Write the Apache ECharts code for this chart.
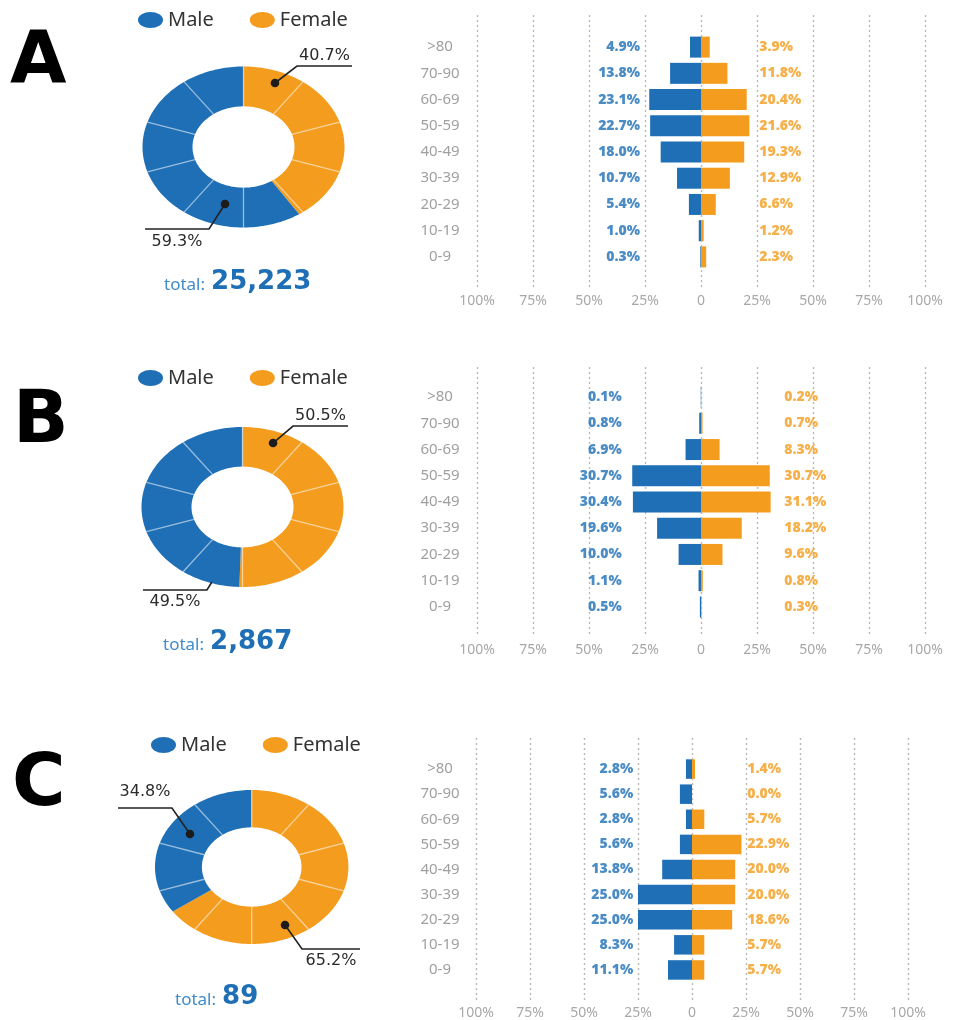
<!DOCTYPE html>
<html>
<head>
<meta charset="utf-8">
<script src="https://cdn.jsdelivr.net/npm/echarts@6/dist/echarts.min.js"></script>
<style>
  html, body { margin: 0; padding: 0; background: #ffffff; }
  #chart { width: 964px; height: 1020px; }
</style>
</head>
<body>
<div id="chart"></div>
<script>
// ---- data ----
// age groups, listed bottom to top
const ageGroups = ['0-9', '10-19', '20-29', '30-39', '40-49', '50-59', '60-69', '70-90', '>80'];
const panelLetters = ['A', 'B', 'C'];
const totals = [25223, 2867, 89];
const femaleShare = [40.7, 50.5, 65.2];
const maleShare = [59.3, 49.5, 34.8];

// share of each age group within each sex (%), ordered like ageGroups
const maleA = [0.3, 1.0, 5.4, 10.7, 18.0, 22.7, 23.1, 13.8, 4.9];
const femaleA = [2.3, 1.2, 6.6, 12.9, 19.3, 21.6, 20.4, 11.8, 3.9];
const maleB = [0.5, 1.1, 10.0, 19.6, 30.4, 30.7, 6.9, 0.8, 0.1];
const femaleB = [0.3, 0.8, 9.6, 18.2, 31.1, 30.7, 8.3, 0.7, 0.2];
const maleC = [11.1, 8.3, 25.0, 25.0, 13.8, 5.6, 2.8, 5.6, 2.8];
const femaleC = [5.7, 5.7, 18.6, 20.0, 20.0, 22.9, 5.7, 0.0, 1.4];

const maleByPanel = [maleA, maleB, maleC];
const femaleByPanel = [femaleA, femaleB, femaleC];

// ---- styling & layout ----
const BLUE = '#1e6fb6';
const ORANGE = '#f49c1d';
const TEXT_DARK = '#2b2b2b';
const ELLIPSE_ICON = 'path://M0,10a10,10 0 1,0 20,0a10,10 0 1,0 -20,0z';

const frames = [
  {
    letter: { left: 10, top: 28 }, legend: { left: 138, top: 10 }, total: { left: 164, top: 267 },
    donut: { cx: 243.5, cy: 147, rx: 101, ry: 80.5, hole: 0.505 },
    plot: { left: 477, width: 448, lineTop: 15, lineHeight: 272, barTop: 34, barHeight: 236, barWidth: 21, labelMargin: 37, tickMargin: 7 },
    valueAnchor: [-27.2, 26.0]
  },
  {
    letter: { left: 13, top: 387 }, legend: { left: 138, top: 368 }, total: { left: 163, top: 627 },
    donut: { cx: 242.5, cy: 507, rx: 101, ry: 80, hole: 0.505 },
    plot: { left: 477, width: 448, lineTop: 367, lineHeight: 270, barTop: 384, barHeight: 236, barWidth: 21, labelMargin: 37, tickMargin: 6 },
    valueAnchor: [-35.4, 37.2]
  },
  {
    letter: { left: 12, top: 750 }, legend: { left: 151, top: 735 }, total: { left: 175, top: 982 },
    donut: { cx: 251.7, cy: 867, rx: 96.7, ry: 77, hole: 0.515 },
    plot: { left: 476, width: 432, lineTop: 738, lineHeight: 263, barTop: 756.5, barHeight: 226, barWidth: 19.5, labelMargin: 36, tickMargin: 5 },
    valueAnchor: [-27.2, 25.6]
  }
];

// callout geometry per panel: [female, male]
// angle: degrees clockwise from 12 o'clock, r: fraction of the outer radius
const callouts = [
  [ { angle: 21.4, r: 0.854, dx: 22, dy: -17, len: 55, textDy: -10, dot: true },
    { angle: 194.5, r: 0.731, dx: -16, dy: 25, len: -64, textDy: 13, dot: true } ],
  [ { angle: 20.7, r: 0.855, dx: 20, dy: -17, len: 55, textDy: -10, dot: true },
    { angle: 197.9, r: 0.985, dx: -5, dy: 8, len: -64, textDy: 12, dot: false } ],
  [ { angle: 155.4, r: 0.828, dx: 17, dy: 24, len: 58, textDy: 12, dot: true },
    { angle: 303.9, r: 0.769, dx: -18, dy: -26, len: -54, textDy: -16, dot: true } ]
];

// point on the (elliptical) donut at a given angle and radius fraction
function ringPoint(d, deg, k) {
  const a = deg * Math.PI / 180;
  return [d.cx + d.rx * k * Math.sin(a), d.cy - d.ry * k * Math.cos(a)];
}

// donut slices: [panel, sex (0 female, 1 male), share]
const donutItems = [];
frames.forEach((f, p) => {
  donutItems.push([p, 0, femaleShare[p]]);
  donutItems.push([p, 1, maleShare[p]]);
});

function renderSlice(params, api) {
  const p = api.value(0), sex = api.value(1), share = api.value(2);
  const d = frames[p].donut;
  const a0 = sex === 0 ? 0 : femaleShare[p] * 3.6;
  const a1 = a0 + share * 3.6;
  const n = Math.max(2, Math.ceil((a1 - a0) / 1.5));
  const pts = [];
  for (let i = 0; i <= n; i++) pts.push(ringPoint(d, a0 + (a1 - a0) * i / n, 1));
  for (let i = n; i >= 0; i--) pts.push(ringPoint(d, a0 + (a1 - a0) * i / n, d.hole));
  return {
    type: 'polygon',
    shape: { points: pts },
    style: { fill: sex === 0 ? ORANGE : BLUE }
  };
}

// ten equal tiles drawn as light dividers over the ring
function renderDividers(params, api) {
  const d = frames[api.value(0)].donut;
  const children = [];
  for (let k = 0; k < 10; k++) {
    const a = k * 36;
    const p0 = ringPoint(d, a, d.hole), p1 = ringPoint(d, a, 1);
    children.push({
      type: 'line',
      shape: { x1: p0[0], y1: p0[1], x2: p1[0], y2: p1[1] },
      style: { stroke: 'rgba(255,255,255,0.55)', lineWidth: 1.3 }
    });
  }
  return { type: 'group', children: children };
}

function renderCallout(params, api) {
  const p = api.value(0), sex = api.value(1), share = api.value(2);
  const d = frames[p].donut;
  const c = callouts[p][sex];
  const start = ringPoint(d, c.angle, c.r);
  const elbow = [start[0] + c.dx, start[1] + c.dy];
  const end = [elbow[0] + c.len, elbow[1]];
  const children = [{
    type: 'polyline',
    shape: { points: [start, elbow, end] },
    style: { stroke: '#222222', lineWidth: 1.6, fill: null }
  }];
  if (c.dot) {
    children.push({
      type: 'circle',
      shape: { cx: start[0], cy: start[1], r: 4.3 },
      style: { fill: '#1c1c1c' }
    });
  }
  children.push({
    type: 'text',
    x: elbow[0] + c.len / 2,
    y: elbow[1] + c.textDy,
    style: {
      text: share.toFixed(1) + '%',
      fill: TEXT_DARK,
      fontFamily: 'DejaVu Sans',
      fontSize: 16,
      align: 'center',
      verticalAlign: 'middle'
    }
  });
  return { type: 'group', children: children };
}

// ---- chart assembly ----
const grids = [], xAxes = [], yAxes = [], series = [], legends = [], titles = [];

frames.forEach((f, p) => {
  const pl = f.plot;
  const lineGrid = 2 * p, barGrid = 2 * p + 1;

  // dotted percentage guides with their tick labels
  grids.push({ left: pl.left, width: pl.width, top: pl.lineTop, height: pl.lineHeight });
  xAxes.push({
    gridIndex: lineGrid, type: 'value', min: -100, max: 100, interval: 25,
    axisLine: { show: false }, axisTick: { show: false },
    splitLine: { show: true, lineStyle: { type: [2, 3], color: '#b9b9b9', width: 1.4 } },
    axisLabel: {
      margin: pl.tickMargin, color: '#a8a8a8', fontFamily: 'Noto Sans', fontSize: 14,
      formatter: v => (v === 0 ? '0' : Math.abs(v) + '%')
    }
  });
  yAxes.push({ gridIndex: lineGrid, type: 'value', show: false });

  // age-group bars
  grids.push({ left: pl.left, width: pl.width, top: pl.barTop, height: pl.barHeight });
  xAxes.push({ gridIndex: barGrid, type: 'value', min: -100, max: 100, show: false });
  yAxes.push({
    gridIndex: barGrid, type: 'category', data: ageGroups,
    axisLine: { show: false }, axisTick: { show: false }, splitLine: { show: false },
    axisLabel: { margin: pl.labelMargin, align: 'center', color: '#a0a0a0', fontFamily: 'Noto Sans', fontSize: 15 }
  });

  const male = maleByPanel[p], female = femaleByPanel[p];
  series.push({
    name: 'Male', type: 'bar', xAxisIndex: barGrid, yAxisIndex: barGrid,
    data: male.map(v => -v), barWidth: pl.barWidth, barGap: '-100%',
    itemStyle: { color: BLUE }, silent: true
  });
  series.push({
    name: 'Female', type: 'bar', xAxisIndex: barGrid, yAxisIndex: barGrid,
    data: female, barWidth: pl.barWidth, barGap: '-100%',
    itemStyle: { color: ORANGE }, silent: true
  });

  // value labels in two aligned columns
  const valueLabel = (color, position) => ({
    show: true, position: position, distance: 0, color: color,
    fontFamily: 'Open Sans', fontWeight: 800, fontSize: 14,
    formatter: d => d.value[2].toFixed(1) + '%'
  });
  series.push({
    name: 'male values', type: 'scatter', xAxisIndex: barGrid, yAxisIndex: barGrid,
    symbolSize: 0, silent: true, z: 4,
    data: male.map((v, i) => [f.valueAnchor[0], i, v]),
    label: valueLabel(BLUE, 'left')
  });
  series.push({
    name: 'female values', type: 'scatter', xAxisIndex: barGrid, yAxisIndex: barGrid,
    symbolSize: 0, silent: true, z: 4,
    data: female.map((v, i) => [f.valueAnchor[1], i, v]),
    label: valueLabel(ORANGE, 'right')
  });

  legends.push({
    data: ['Male', 'Female'], left: f.legend.left, top: f.legend.top, padding: 0,
    icon: ELLIPSE_ICON, symbolKeepAspect: false, itemWidth: 25, itemHeight: 16, itemGap: 36,
    selectedMode: false,
    textStyle: { fontFamily: 'Noto Sans', fontSize: 20, color: '#333333' }
  });

  titles.push({
    text: panelLetters[p], left: f.letter.left, top: f.letter.top, padding: 0,
    textStyle: { fontFamily: 'DejaVu Sans', fontWeight: 'bold', fontSize: 73, color: '#000000' }
  });
  titles.push({
    text: '{t|total:}{n|' + totals[p].toLocaleString('en-US') + '}',
    left: f.total.left, top: f.total.top, padding: 0,
    textStyle: {
      fontWeight: 'normal',
      rich: {
        t: { fontFamily: 'Noto Sans', fontWeight: 'normal', fontSize: 17, color: '#3f8bcb', verticalAlign: 'bottom', lineHeight: 28, padding: [0, 6, 1, 0] },
        n: { fontFamily: 'DejaVu Sans', fontWeight: 'bold', fontSize: 26, color: BLUE, verticalAlign: 'bottom', lineHeight: 28 }
      }
    }
  });
});

series.push({ name: 'sex split', type: 'custom', coordinateSystem: 'none', silent: true, z: 2, data: donutItems, renderItem: renderSlice });
series.push({ name: 'tiles', type: 'custom', coordinateSystem: 'none', silent: true, z: 3, data: frames.map((f, p) => [p]), renderItem: renderDividers });
series.push({ name: 'callouts', type: 'custom', coordinateSystem: 'none', silent: true, z: 5, data: donutItems, renderItem: renderCallout });

const chart = echarts.init(document.getElementById('chart'), null, { renderer: 'canvas' });
chart.setOption({
  animation: false,
  backgroundColor: '#ffffff',
  title: titles,
  legend: legends,
  grid: grids,
  xAxis: xAxes,
  yAxis: yAxes,
  series: series
});
</script>
</body>
</html>
